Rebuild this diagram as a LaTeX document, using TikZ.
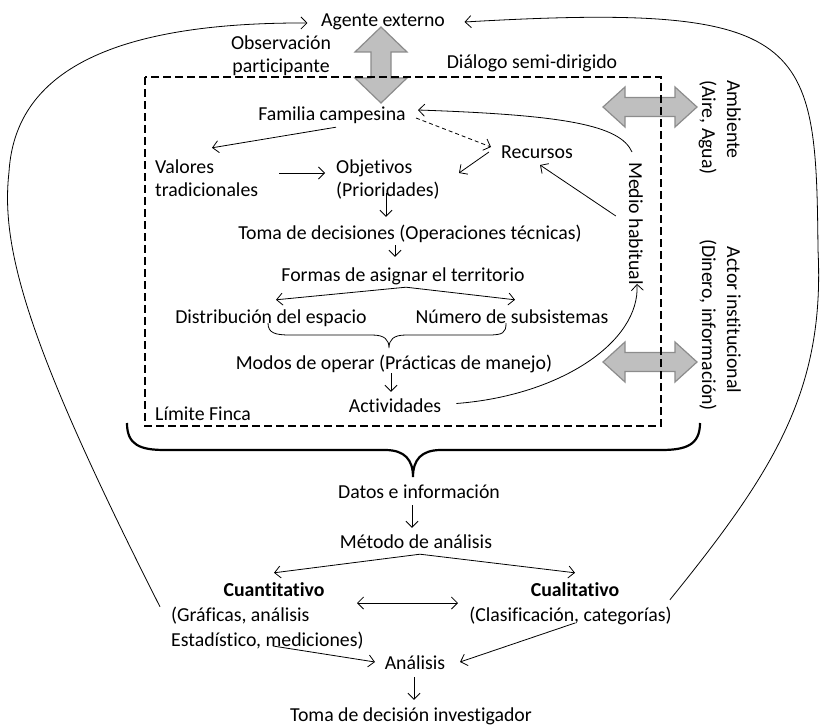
\documentclass[tikz,border=0pt]{standalone}
\usepackage{fontspec}
\setmainfont{Carlito}[Ligatures=NoCommon]
\usetikzlibrary{arrows.meta,calc}
\begin{document}
\fontsize{19.8}{24}\selectfont
\begin{tikzpicture}[x=1pt,y=-1pt,
  lbl/.style={inner sep=0pt, text height=13pt, text depth=4pt, anchor=base},
  lblw/.style={lbl, anchor=base west},
  vlbl/.style={lbl, rotate=-90},
  arr/.style={line width=0.8pt, -{Straight Barb[length=6pt,width=12pt]}},
  arrboth/.style={line width=0.8pt, {Straight Barb[length=6pt,width=12pt]}-{Straight Barb[length=6pt,width=12pt]}},
  thin line/.style={line width=0.8pt},
  gray arrow/.style={fill=black!25, draw=black!45, line width=1.2pt, line join=miter},
  brace line/.style={line width=2.2pt},
  finca line/.style={line width=2.2pt, dash pattern=on 8pt off 4pt}]
\useasboundingbox (0,0) rectangle (822,725);

% exchange arrows (drawn first, the farm boundary runs over them)
\draw[gray arrow] (381,27) -- (407,52) -- (391,52) -- (391,78) -- (407,78) -- (381,103)
  -- (355,78) -- (371,78) -- (371,52) -- (355,52) -- cycle;
\foreach \cy in {107,362}{
  \draw[gray arrow] (603,\cy) -- (625,\cy-20) -- (625,\cy-9.5) -- (675,\cy-9.5) -- (675,\cy-20)
    -- (697,\cy) -- (675,\cy+20) -- (675,\cy+9.5) -- (625,\cy+9.5) -- (625,\cy+20) -- cycle;
}

% farm boundary
\draw[finca line] (145,77) rectangle (661,426);

% labels
\node[lbl] (agente) at (383,27) {Agente externo};
\node[lbl] (obs1) at (281,49) {Observación};
\node[lbl] (obs2) at (281,73) {participante};
\node[lbl] (dialogo) at (532,69) {Diálogo semi-dirigido};
\node[lbl] (familia) at (332,121) {Familia campesina};
\node[lblw] (val1) at (155,173) {Valores};
\node[lblw] (val2) at (155,196) {tradicionales};
\node[lblw] (obj1) at (336,173) {Objetivos};
\node[lblw] (obj2) at (336,196) {(Prioridades)};
\node[lbl] (recursos) at (537,158) {Recursos};
\node[lbl] (toma) at (410,239) {Toma de decisiones (Operaciones técnicas)};
\node[lbl] (formas) at (403,281) {Formas de asignar el territorio};
\node[lbl] (distrib) at (271,323) {Distribución del espacio};
\node[lbl] (numero) at (512,323) {Número de subsistemas};
\node[lbl] (modos) at (394,369) {Modos de operar (Prácticas de manejo)};
\node[lbl] (activ) at (395,412) {Actividades};
\node[lblw] (limite) at (155,420) {Límite Finca};
\node[vlbl, anchor=base west] (medio) at (629,162) {Medio habitual};
\node[vlbl, anchor=base west] (amb1) at (727,80) {Ambiente};
\node[vlbl, anchor=base west] (amb2) at (702,80) {(Aire, Agua)};
\node[vlbl] (act1) at (727,320) {Actor institucional};
\node[vlbl] (act2) at (702,325) {(Dinero, información)};
\node[lbl] (datos) at (419,498) {Datos e información};
\node[lbl] (metodo) at (416,548) {Método de análisis};
\node[lbl] (cuanti) at (274,596) {\textbf{Cuantitativo}};
\node[lbl] (cuali) at (575,596) {\textbf{Cualitativo}};
\node[lblw] (graf1) at (171,621) {(Gráficas, análisis};
\node[lblw] (graf2) at (171,646) {Estadístico, mediciones)};
\node[lbl] (clasif) at (570.5,621) {(Clasificación, categorías)};
\node[lbl] (analisis) at (415,669) {Análisis};
\node[lbl] (tomainv) at (411,721) {Toma de decisión investigador};

% connectors inside the farm
\draw[arr] ($(familia.south)+(4,2)$) -- ($(val1.north west)+(57,-12)$);
\draw[arr, dash pattern=on 4pt off 3pt] ($(familia.base)+(84,-3)$) -- ($(recursos.base)+(-46,-11)$);
\draw[arr] ($(recursos.base)+(-48,-6)$) -- ($(obj1.base west)+(123,0)$);
\draw[arr] ($(val1.base west)+(124,0)$) -- ($(obj1.base west)+(-11,0)$);
\draw[arr] ($(obj2.base west)+(50,-3)$) -- ($(toma.north)+(-24,-9)$);
\draw[arr] ($(toma.south)+(-15,2)$) -- ($(formas.north)+(-8,-11)$);
\draw[arr] ($(formas.south)+(3,2)$) -- ($(distrib.north)+(5,-10)$);
\draw[arr] ($(formas.south)+(3,2)$) -- ($(numero.north)+(3,-10)$);
\draw[arr] ($(modos.south)+(-3,0)$) -- ($(activ.north)+(-4,-7)$);
\draw[arr] ($(activ.east)+(15,-4)$) .. controls +(104,-8) and +(3,58) .. ($(medio.east)+(3.5,-1)$);
\draw[arr] ($(medio.west)+(-1.5,-10)$) .. controls +(-12,-27) and +(146,5) .. ($(familia.base)+(86,-11)$);
\draw[arr] ($(medio.south)+(-9,-7.5)$) -- ($(recursos.base)+(3,7)$);

% brace grouping the two ways of allotting the land
\draw[thin line] (268,323) .. controls (268,333) and (275,335) .. (290,335) -- (372,335)
  .. controls (385,335) and (389,340) .. (389,348)
  .. controls (389,340) and (393,335) .. (406,335) -- (488,335)
  .. controls (503,335) and (506,333) .. (506,323);

% large brace collecting the farm data
\draw[brace line] (127,423) .. controls (127,445) and (140,450) .. (165,450) -- (385,450)
  .. controls (405,450) and (413,460) .. (413,477)
  .. controls (413,460) and (421,450) .. (441,450) -- (661,450)
  .. controls (686,450) and (700,445) .. (700,423);

% analysis chain
\draw[arr] ($(datos.south)+(-7,3)$) -- ($(metodo.north)+(-4,-7)$);
\draw[arr] ($(metodo.south)+(4,2)$) -- ($(cuanti.north)+(0,-10)$);
\draw[arr] ($(metodo.south)+(4,2)$) -- ($(cuali.north)+(0,-10)$);
\draw[arrboth] ($(cuanti.base)+(83,7)$) -- ($(cuali.base)+(-117,7)$);
\draw[arr] ($(graf2.base west)+(102,0)$) -- ($(analisis.base)+(-40,-7)$);
\draw[arr] ($(clasif.base)+(4.5,2)$) -- ($(analisis.base)+(45,-7)$);
\draw[arr] ($(analisis.south)+(-1,4)$) -- ($(tomainv.north)+(3,-8)$);

% feedback loops back to the external agent
\draw[arr] ($(graf1.north west)+(-11,-1)$) .. controls (30,350) and (0,250) .. (9,172)
  .. controls (14,90) and (80,22) .. ($(agente.west)+(-13.5,0.5)$);
\draw[arr] ($(clasif.north east)+(-2,-8)$) .. controls (775,470) and (825,390) .. (818,250)
  .. controls (816,40) and (810,2) .. ($(agente.east)+(19.5,-0.5)$);
\end{tikzpicture}
\end{document}
